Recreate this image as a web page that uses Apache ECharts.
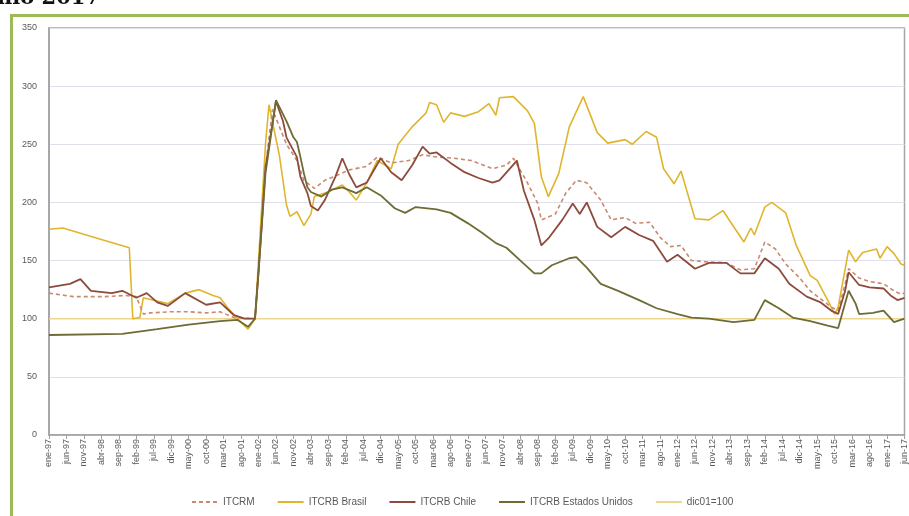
<!DOCTYPE html>
<html>
<head>
<meta charset="utf-8">
<script src="https://cdn.jsdelivr.net/npm/echarts@6/dist/echarts.min.js"></script>
<style>html,body{margin:0;padding:0;background:#fff;}#c{width:909px;height:516px;}</style>
</head>
<body>
<div id="c"></div>
<script>
// Month abbreviations used for the category axis (monthly, ene-97 .. jun-17)
const monthNames = ['ene','feb','mar','abr','may','jun','jul','ago','sep','oct','nov','dic'];
const categories = [];
for (let y = 1997; y <= 2017; y++) {
  for (let m = 0; m < 12; m++) {
    if (y === 2017 && m > 5) break;
    categories.push(monthNames[m] + '-' + String(y).slice(2));
  }
}

const yTicks = [0, 50, 100, 150, 200, 250, 300, 350];

const itcrm = [
  ['ene-97',122],['ago-97',119],['may-98',119],['nov-98',120],['feb-99',119],['abr-99',104],['jun-99',105],
  ['dic-99',106],['may-00',106],['oct-00',105],['feb-01',106],['jun-01',101],['dic-01',100],['ene-02',140],
  ['mar-02',230],['may-02',280],['sep-02',250],['dic-02',236],['feb-03',219],['may-03',212],['ago-03',219],
  ['dic-03',224],['mar-04',228],
  ['ago-04',231],['nov-04',239],['mar-05',234],['ago-05',236],['dic-05',241],['abr-06',239],['sep-06',238],
  ['feb-07',236],['ago-07',229],['dic-07',232],['feb-08',238],['jun-08',217],['sep-08',199],['oct-08',185],
  ['feb-09',190],['may-09',208],['ago-09',219],['nov-09',217],['mar-10',202],['jun-10',185],['oct-10',187],
  ['ene-11',182],['may-11',183],['ago-11',170],['nov-11',162],['feb-12',163],['may-12',150],['sep-12',149],
  ['mar-13',148],['jul-13',142],['nov-13',143],['feb-14',166],['may-14',160],['ago-14',147],['dic-14',135],
  ['mar-15',124],['jun-15',117],['sep-15',110],['nov-15',107],['ene-16',130],['feb-16',143],['may-16',135],
  ['ago-16',132],['dic-16',130],['mar-17',124],['may-17',121],['jun-17',122]
];

const brasil = [
  ['ene-97',177],['may-97',178],['mar-98',169],['dic-98',161],['ene-99',100],['mar-99',101],['abr-99',118],
  ['nov-99',113],['abr-00',122],['ago-00',125],['dic-00',120],['feb-01',118],['abr-01',110],['jul-01',100],
  ['oct-01',91],['dic-01',100],['ene-02',150],['mar-02',250],['abr-02',284],['jul-02',240],['sep-02',198],
  ['oct-02',188],['dic-02',192],
  ['feb-03',180],['abr-03',190],['may-03',205],['ago-03',208],['ene-04',215],['mar-04',209],['may-04',202],
  ['ago-04',217],['nov-04',236],['mar-05',229],['may-05',250],['sep-05',265],['ene-06',277],['feb-06',286],
  ['abr-06',284],['jun-06',269],['ago-06',277],['dic-06',274],['abr-07',278],['jul-07',285],['sep-07',275],
  ['oct-07',290],['feb-08',291],['jun-08',279],['ago-08',268],['oct-08',222],['dic-08',205],['mar-09',225],
  ['jun-09',265],['oct-09',291],['feb-10',260],['may-10',251],['oct-10',254],['dic-10',250],['abr-11',261],
  ['jul-11',256],['sep-11',229],['dic-11',216],['feb-12',227],['jun-12',186],['oct-12',185],['feb-13',193],
  ['ago-13',166],['oct-13',178],['nov-13',172],['feb-14',196],['abr-14',200],['ago-14',191],['nov-14',163],
  ['mar-15',137],['may-15',133],['ago-15',116],['oct-15',104],['nov-15',110],['feb-16',159],['abr-16',149],
  ['jun-16',157],['oct-16',160],['nov-16',152],['ene-17',162],['mar-17',156],['may-17',147],['jun-17',146]
];

const chile = [
  ['ene-97',127],['jul-97',130],['oct-97',134],['ene-98',124],['jul-98',122],['oct-98',124],['feb-99',118],
  ['may-99',122],['ago-99',114],['nov-99',111],['abr-00',122],['oct-00',112],['feb-01',114],['jun-01',103],
  ['sep-01',100],['dic-01',100],['ene-02',140],['mar-02',230],['jun-02',287],['ago-02',270],['sep-02',256],
  ['dic-02',239],['ene-03',222],['mar-03',208],['abr-03',197],['jun-03',193],['ago-03',202],['nov-03',222],
  ['ene-04',238],['mar-04',224],['may-04',213],['ago-04',217],['dic-04',238],
  ['mar-05',226],['jun-05',219],['sep-05',232],['dic-05',248],['feb-06',242],['abr-06',243],['ago-06',234],
  ['dic-06',226],['abr-07',221],['ago-07',217],['oct-07',219],['mar-08',236],['may-08',210],['ago-08',185],
  ['oct-08',163],['dic-08',169],['abr-09',185],['jul-09',199],['sep-09',190],['nov-09',200],['feb-10',179],
  ['jun-10',170],['oct-10',179],['feb-11',172],['jun-11',167],['oct-11',149],['ene-12',155],['jun-12',143],
  ['oct-12',148],['mar-13',148],['jul-13',139],['nov-13',139],['feb-14',152],['jun-14',143],['sep-14',130],
  ['feb-15',119],['jun-15',114],['sep-15',107],['nov-15',104],['ene-16',124],['feb-16',140],['may-16',129],
  ['ago-16',127],['dic-16',126],['feb-17',120],['abr-17',116],['jun-17',118]
];

const eeuu = [
  ['ene-97',86],['oct-98',87],['ago-99',91],['may-00',95],['feb-01',98],['jul-01',99],['oct-01',93],
  ['dic-01',100],['ene-02',140],['mar-02',225],['jun-02',288],['sep-02',270],['nov-02',256],['dic-02',252],
  ['ene-03',239],['feb-03',225],['mar-03',213],['abr-03',209],['jul-03',205],['oct-03',211],['ene-04',213],
  ['may-04',208],['ago-04',213],
  ['dic-04',206],['abr-05',195],['jul-05',191],['oct-05',196],['abr-06',194],['ago-06',191],['ene-07',182],
  ['may-07',174],['sep-07',165],['dic-07',161],['abr-08',150],['ago-08',139],['oct-08',139],['ene-09',146],
  ['jun-09',152],['ago-09',153],['nov-09',144],['mar-10',130],['ago-10',124],['feb-11',116],['jul-11',109],
  ['ene-12',104],['may-12',101],['oct-12',100],['may-13',97],['nov-13',99],['feb-14',116],['jun-14',109],
  ['oct-14',101],['mar-15',98],['ago-15',94],['nov-15',92],['feb-16',124],['abr-16',113],['may-16',104],
  ['sep-16',105],['dic-16',107],['mar-17',97],['jun-17',100]
];

const base100 = [['ene-97',100],['jun-17',100]];

const seriesNames = ['ITCRM','ITCRB Brasil','ITCRB Chile','ITCRB Estados Unidos','dic01=100'];

function toXY(arr) { return arr.map(p => [categories.indexOf(p[0]), p[1]]); }

const chart = echarts.init(document.getElementById('c'), null, {renderer: 'canvas'});
const font = 'Liberation Sans, Arial, sans-serif';

chart.setOption({
  animation: false,
  backgroundColor: '#ffffff',
  textStyle: {fontFamily: font},
  graphic: [
    {type: 'rect', left: 9, top: 13, z: -1, shape: {width: 920, height: 520},
     style: {fill: 'none', stroke: '#9BBB59', lineWidth: 3}},
    {type: 'text', left: -3, top: -12, z: 10,
     style: {text: 'nio 2017', font: 'bold 21px "DejaVu Serif", serif', fill: '#111'}}
  ],
  grid: {left: 49, right: 2, top: 28, bottom: 81, show: true, borderColor: '#a6a6a6', borderWidth: 1.5},
  legend: {
    data: seriesNames,
    left: 186, top: 492,
    itemWidth: 26, itemHeight: 8, itemGap: 22,
    itemStyle: {opacity: 0},
    textStyle: {fontSize: 10, color: '#595959', fontFamily: font}
  },
  xAxis: {
    type: 'category', data: categories, boundaryGap: false,
    axisLine: {lineStyle: {color: '#a0a0a0', width: 1.5}},
    axisTick: {show: true, interval: 4, length: 4, lineStyle: {color: '#a0a0a0'}},
    axisLabel: {interval: 4, rotate: 90, fontSize: 9, color: '#595959', margin: 4, fontFamily: font},
    splitLine: {show: false}
  },
  yAxis: {
    type: 'value', min: yTicks[0], max: yTicks[yTicks.length - 1], interval: 50,
    axisLine: {show: true, lineStyle: {color: '#a0a0a0', width: 1.5}},
    axisTick: {show: false},
    axisLabel: {fontSize: 9, color: '#595959', margin: 12, fontFamily: font},
    splitLine: {lineStyle: {color: '#e0e0ea', width: 1}}
  },
  series: [
    {name: seriesNames[0], type: 'line', data: toXY(itcrm), symbol: 'none', z: 4,
     lineStyle: {color: '#c98a6e', width: 1.6, type: [4, 3]}, itemStyle: {color: '#c98a6e'}},
    {name: seriesNames[1], type: 'line', data: toXY(brasil), symbol: 'none', z: 3,
     lineStyle: {color: '#e0b52e', width: 1.6}, itemStyle: {color: '#e0b52e'}},
    {name: seriesNames[2], type: 'line', data: toXY(chile), symbol: 'none', z: 5,
     lineStyle: {color: '#8c4b3c', width: 1.8}, itemStyle: {color: '#8c4b3c'}},
    {name: seriesNames[3], type: 'line', data: toXY(eeuu), symbol: 'none', z: 5,
     lineStyle: {color: '#6e6b35', width: 1.8}, itemStyle: {color: '#6e6b35'}},
    {name: seriesNames[4], type: 'line', data: toXY(base100), symbol: 'none', z: 2,
     lineStyle: {color: '#efd68f', width: 1.5}, itemStyle: {color: '#efd68f'}}
  ]
});
</script>
</body>
</html>
